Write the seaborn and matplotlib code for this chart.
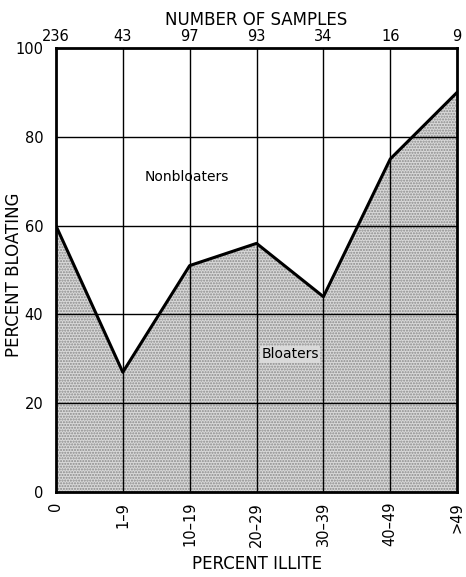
import matplotlib
matplotlib.use("Agg")
import matplotlib.pyplot as plt
import seaborn as sns
import pandas as pd
import numpy as np

categories = ["0", "1–9", "10–19", "20–29", "30–39", "40–49", ">49"]
percent_bloating = [60, 27, 51, 56, 44, 75, 90]
sample_counts = ["236", "43", "97", "93", "34", "16", "9"]

sns.set_theme(style="white")
plt.rcParams['font.family'] = ['DejaVu Sans']

df = pd.DataFrame({"pos": np.arange(len(categories)), "val": percent_bloating})

fig = plt.figure(figsize=(4.66, 5.77), dpi=100)
ax = fig.add_axes([0.120, 0.147, 0.861, 0.770])

ax.fill_between(df["pos"], 0, df["val"], facecolor="#d9d9d9", edgecolor="#8a8a8a",
                hatch="......", linewidth=0, zorder=1)
sns.lineplot(data=df, x="pos", y="val", color="black", linewidth=2.2, ax=ax, zorder=3)

ax.set_xlim(0, len(categories) - 1)
ax.set_ylim(0, 100)
ax.set_xticks(df["pos"])
ax.set_xticklabels(categories, rotation=90, fontsize=10.5)
ax.set_yticks([0, 20, 40, 60, 80, 100])
ax.set_yticklabels(["0", "20", "40", "60", "80", "100"], fontsize=10.5)
ax.tick_params(axis="y", length=0, pad=9, colors="black")
ax.tick_params(axis="x", length=0, pad=7, colors="black")

for p in df["pos"][1:-1]:
    ax.axvline(p, color="black", linewidth=1.0, zorder=2)
for yv in [20, 40, 60, 80]:
    ax.axhline(yv, color="black", linewidth=1.0, zorder=2)

for s in ax.spines.values():
    s.set_color("black")
    s.set_linewidth(2.0)

ax.set_xlabel("PERCENT ILLITE", fontsize=12, color="black", labelpad=6)
ax.set_ylabel("PERCENT BLOATING", fontsize=12, color="black")
ax.yaxis.set_label_coords(-0.082, 0.49)

top = ax.twiny()
top.set_xlim(ax.get_xlim())
top.set_xticks(df["pos"])
top.set_xticklabels(sample_counts, fontsize=10.5)
top.tick_params(axis="x", length=0, pad=3, colors="black")
top.set_xlabel("NUMBER OF SAMPLES", fontsize=12, color="black", labelpad=3)
for s in top.spines.values():
    s.set_visible(False)

ax.text(1.95, 71, "Nonbloaters", fontsize=10, ha="center", va="center", color="black", zorder=4)
ax.text(3.5, 31, "Bloaters", fontsize=10, ha="center", va="center", color="black", zorder=4,
        bbox=dict(facecolor="#d9d9d9", edgecolor="none", pad=1))

fig.savefig("out.png", dpi=100)
